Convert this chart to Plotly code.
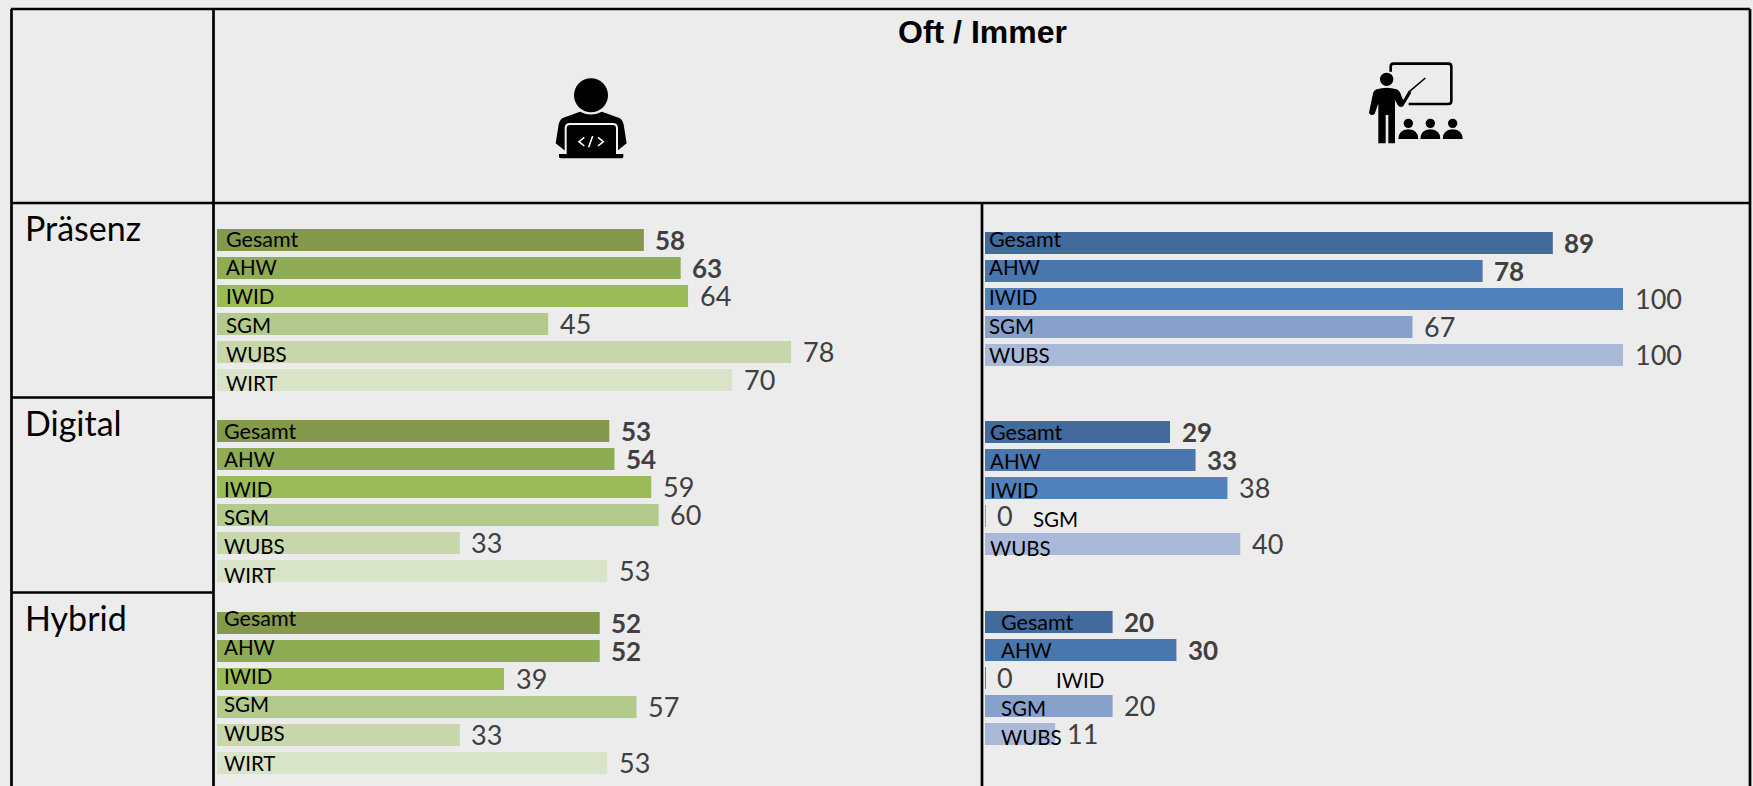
import plotly.graph_objects as go

# ---------- data ----------
cats_left = ["Gesamt", "AHW", "IWID", "SGM", "WUBS", "WIRT"]
cats_right = ["Gesamt", "AHW", "IWID", "SGM", "WUBS"]
praesenz_left = [58, 63, 64, 45, 78, 70]
digital_left = [53.3, 54, 59, 60, 33, 53]
hybrid_left = [52, 52, 39, 57, 33, 53]
praesenz_right = [89, 78, 100, 67, 100]
digital_right = [29, 33, 38, 0, 40]
hybrid_right = [20, 30, 0, 20, 11]
row_names = ["Präsenz", "Digital", "Hybrid"]
title_text = "Oft / Immer"

# ---------- style ----------
BG = "#ECECEC"
greens = ["#84994C", "#8FAB54", "#9BBB59", "#B2CA8B", "#C8D6AB", "#D9E3C7"]
blues = ["#426A9C", "#4A76AE", "#4F81BD", "#88A1CB", "#AAB9D8"]
W, H = 1753, 786
LEFT_X0, LEFT_X1 = 217, 953
RIGHT_X0, RIGHT_X1 = 985, 1623
STEP = 28

# panel placement: values, cats, colours, x-span, top px, label x px, label y nudges
panels = [
    (praesenz_left, cats_left, greens, (LEFT_X0, LEFT_X1), 226, [224] * 6, [-1, -1, 0, 1, 2, 3]),
    (digital_left, cats_left, greens, (LEFT_X0, LEFT_X1), 417, [222] * 6, [0, 0, 2, 2.5, 3, 4]),
    (hybrid_left, cats_left, greens, (LEFT_X0, LEFT_X1), 609, [222] * 6, [-5, -3.5, -3, -2.5, -1.5, 0]),
    (praesenz_right, cats_right, blues, (RIGHT_X0, RIGHT_X1), 229, [987] * 5, [-3.5, -4, -2, -1, 0]),
    (digital_right, cats_right, blues, (RIGHT_X0, RIGHT_X1), 418, [988, 988, 988, 1031, 988], [0, 1, 2, 3.5, 4.5]),
    (hybrid_right, cats_right, blues, (RIGHT_X0, RIGHT_X1), 608, [999, 999, 1054, 999, 999], [0, 0, 2, 2, 3]),
]

fig = go.Figure()
annotations = []
layout_axes = {}

for i, (vals, cats, cols, (x0, x1), top, lab_x, lab_dy) in enumerate(panels, start=1):
    xa, ya = f"x{i}", f"y{i}"
    bottom = top + STEP * len(cats)
    fig.add_trace(go.Bar(
        x=vals, y=cats, orientation="h", xaxis=xa, yaxis=ya,
        marker=dict(color=cols[:len(vals)], line=dict(color=cols[:len(vals)],
                    width=[2 if v == 0 else 0 for v in vals])),
        showlegend=False, hoverinfo="x+y",
    ))
    layout_axes[f"xaxis{i}"] = dict(domain=[x0 / W, x1 / W], range=[0, 100], visible=False, fixedrange=True, anchor=ya)
    layout_axes[f"yaxis{i}"] = dict(domain=[1 - bottom / H, 1 - top / H], range=[len(cats) - 0.5, -0.5],
                                    type="category", visible=False, fixedrange=True, anchor=xa)
    for j, (c, v) in enumerate(zip(cats, vals)):
        shown = round(v)
        annotations.append(dict(
            x=v, y=c, xref=xa, yref=ya, text=f"<b>{shown}</b>" if j < 2 else str(shown), showarrow=False,
            xanchor="left", yanchor="middle", xshift=9.5, yshift=0.5,
            font=dict(family="Lato", size=26 if j < 2 else 27, color="#404040"),
        ))
        annotations.append(dict(
            x=0, y=c, xref=xa, yref=ya, text=c, showarrow=False,
            xanchor="left", yanchor="middle", xshift=lab_x[j] - x0, yshift=0.5 - lab_dy[j],
            font=dict(family="Lato", size=21.5 if j == 0 else 20.5, color="#000000"),
        ))

# overlay axis in pixel units for table lines and icons
layout_axes["xaxis7"] = dict(domain=[0, 1], range=[0, W], visible=False, fixedrange=True, anchor="y7")
layout_axes["yaxis7"] = dict(domain=[0, 1], range=[H, 0], visible=False, fixedrange=True, anchor="x7")
fig.add_trace(go.Scatter(x=[], y=[], xaxis="x7", yaxis="y7", showlegend=False))

shapes = []


def line(x0, y0, x1, y1, w=2.7):
    shapes.append(dict(type="line", xref="x7", yref="y7", x0=x0, y0=y0, x1=x1, y1=y1,
                       line=dict(color="#000000", width=w)))


line(11, 9, 1750, 9)
line(11, 203, 1750, 203)
line(11.5, 9, 11.5, 786)
line(213.5, 9, 213.5, 786)
line(982, 203, 982, 786)
line(1750, 9, 1750, 786)
line(11, 397.5, 213.5, 397.5)
line(11, 592.5, 213.5, 592.5)


def icon_path(cmds, ox, oy, s=3.0):
    out = []
    for c in cmds:
        if isinstance(c, str):
            out.append(c)
        else:
            out.append(f"{ox + c[0] / s:.2f},{oy + c[1] / s:.2f}")
    return " ".join(out)


def icon_shape(cmds, ox, oy, fill=None, stroke=None, width=0):
    shapes.append(dict(type="path", xref="x7", yref="y7", path=icon_path(cmds, ox, oy),
                       fillcolor=fill if fill else "rgba(0,0,0,0)",
                       line=dict(color=stroke if stroke else "rgba(0,0,0,0)", width=width)))


def circle(cx, cy, r, ox, oy, fill="#000000"):
    shapes.append(dict(type="circle", xref="x7", yref="y7", fillcolor=fill,
                       x0=ox + (cx - r) / 3, x1=ox + (cx + r) / 3,
                       y0=oy + (cy - r) / 3, y1=oy + (cy + r) / 3,
                       line=dict(width=0)))


# coder icon
ox, oy = 530, 60
circle(183, 106, 51, ox, oy)
icon_shape(["M", (150, 155), "Q", (183, 172), (216, 155), "L", (268, 174), "Q", (280, 180), (282, 200),
            "L", (290, 250), "L", (262, 272), "L", (262, 284), "L", (105, 284), "L", (105, 272),
            "L", (77, 250), "L", (85, 200), "Q", (87, 180), (98, 174), "Z"], ox, oy, fill="#000000")
icon_shape(["M", (107, 284), "L", (107, 205), "Q", (107, 192), (120, 192), "L", (248, 192),
            "Q", (261, 192), (261, 205), "L", (261, 284)], ox, oy, stroke="#F4F4F4", width=2)
icon_shape(["M", (87, 282), "L", (280, 282), "L", (280, 290), "Q", (280, 295), (274, 295),
            "L", (93, 295), "Q", (87, 295), (87, 290), "Z"], ox, oy, fill="#000000")
for p in (["M", (163, 232), "L", (147, 245), "L", (163, 258)],
          ["M", (188, 228), "L", (176, 262)],
          ["M", (204, 232), "L", (220, 245), "L", (204, 258)]):
    icon_shape(p, ox, oy, stroke="#FFFFFF", width=1.6)

# teacher icon
ox, oy = 1350, 50
icon_shape(["M", (122, 65), "L", (122, 50), "Q", (122, 41), (131, 41), "L", (295, 41), "Q", (304, 41), (304, 50),
            "L", (304, 153), "Q", (304, 162), (295, 162), "L", (176, 162)], ox, oy, stroke="#000000", width=2.6)
circle(110, 88, 20, ox, oy)
icon_shape(["M", (80, 118), "Q", (110, 108), (140, 118), "Q", (150, 122), (155, 140), "L", (160, 150),
            "L", (176, 122), "L", (184, 128), "L", (160, 168), "Q", (150, 175), (143, 165), "L", (135, 150),
            "L", (135, 280), "L", (115, 280), "L", (115, 195), "L", (107, 195), "L", (107, 280),
            "L", (85, 280), "L", (85, 160), "L", (74, 192), "Q", (62, 200), (57, 188),
            "L", (68, 135), "Q", (70, 122), (80, 118), "Z"], ox, oy, fill="#000000")
icon_shape(["M", (178, 125), "L", (226, 84)], ox, oy, stroke="#000000", width=1.6)
for dx in (0, 66, 133):
    circle(175 + dx, 220, 14, ox, oy)
    icon_shape(["M", (145 + dx, 267), "Q", (145 + dx, 240), (175 + dx, 238), "Q", (205 + dx, 240), (205 + dx, 267), "Z"],
               ox, oy, fill="#000000")

# row labels and title
for name, y_px in zip(row_names, [227, 422, 617]):
    annotations.append(dict(x=23, y=y_px, xref="x7", yref="y7", text=name, showarrow=False,
                            xanchor="left", yanchor="middle",
                            font=dict(family="Lato", size=34, color="#000000")))
annotations.append(dict(x=982, y=32, xref="x7", yref="y7", text=f"<b>{title_text}</b>", showarrow=False,
                        xanchor="center", yanchor="middle",
                        font=dict(family="Liberation Sans", size=32, color="#000000")))

fig.update_layout(
    width=W, height=H, autosize=False,
    margin=dict(l=0, r=0, t=0, b=0, pad=0),
    paper_bgcolor=BG, plot_bgcolor="rgba(0,0,0,0)",
    bargap=6 / 28, showlegend=False,
    shapes=shapes, annotations=annotations,
    **layout_axes,
)

fig.write_html(
    "out.html",
    post_script="document.body.style.margin='0';document.body.style.background='#ECECEC';document.documentElement.style.overflow='hidden';",
    config={"displayModeBar": False},
)
